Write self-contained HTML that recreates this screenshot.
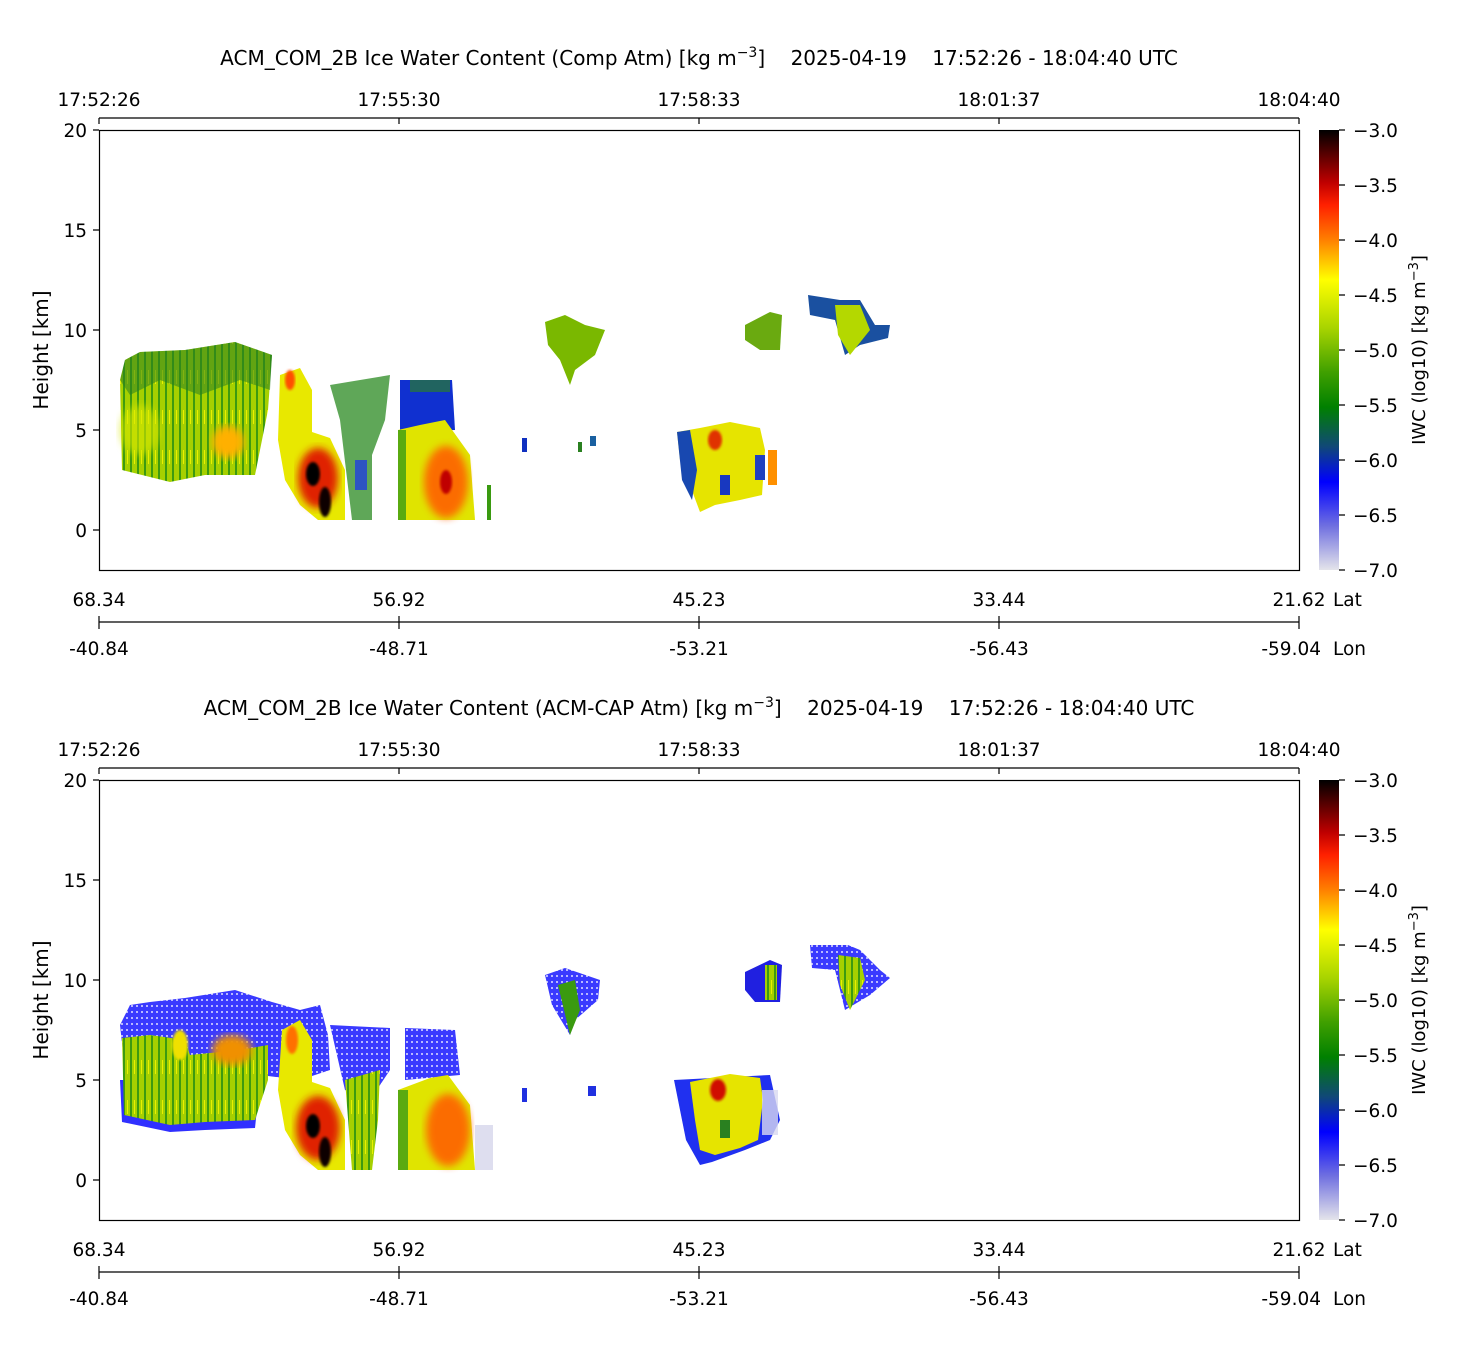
<!DOCTYPE html>
<html><head><meta charset="utf-8"><style>
html,body{margin:0;padding:0;background:#fff}
svg{display:block;font-family:"DejaVu Sans","Liberation Sans",sans-serif}
text{white-space:pre}
</style></head><body>
<svg width="1459" height="1350" viewBox="0 0 1459 1350" xmlns="http://www.w3.org/2000/svg" xml:space="preserve">
<defs>
<linearGradient id="cb" x1="0" y1="0" x2="0" y2="1">
<stop offset="0" stop-color="#000000"/>
<stop offset="0.12" stop-color="#c00000"/>
<stop offset="0.17" stop-color="#ff2000"/>
<stop offset="0.25" stop-color="#ff8000"/>
<stop offset="0.34" stop-color="#ffff00"/>
<stop offset="0.45" stop-color="#a8d400"/>
<stop offset="0.55" stop-color="#40a000"/>
<stop offset="0.63" stop-color="#008000"/>
<stop offset="0.72" stop-color="#104878"/>
<stop offset="0.8" stop-color="#0000ff"/>
<stop offset="0.9" stop-color="#7070e0"/>
<stop offset="1" stop-color="#e4e4ea"/>
</linearGradient>
<pattern id="gy" width="7" height="40" patternUnits="userSpaceOnUse">
<rect width="7" height="40" fill="#a6d000"/><rect x="4" width="2" height="40" fill="#3c9a10"/><rect x="1" y="10" width="1" height="14" fill="#e8f000"/>
</pattern>
<pattern id="bl" width="5" height="6" patternUnits="userSpaceOnUse">
<rect width="5" height="6" fill="#3a3aff"/><rect x="1" y="1" width="2" height="2" fill="#b8b8ff"/>
</pattern>
<filter id="bf"><feGaussianBlur stdDeviation="4"/></filter>
<filter id="bs"><feGaussianBlur stdDeviation="1.2"/></filter>
</defs>

<!-- ============ PANEL 1 ============ -->
<text x="699" y="65" font-size="20" text-anchor="middle">ACM_COM_2B Ice Water Content (Comp Atm) [kg m<tspan dy="-8" font-size="14">−3</tspan><tspan dy="8">]    2025-04-19    17:52:26 - 18:04:40 UTC</tspan></text>
<g font-size="18.5" text-anchor="middle">
<text x="99" y="106">17:52:26</text><text x="399" y="106">17:55:30</text><text x="699" y="106">17:58:33</text><text x="999" y="106">18:01:37</text><text x="1299" y="106">18:04:40</text>
</g>
<g stroke="#000" stroke-width="1.2" fill="none">
<path d="M99 118H1299M99 118v6M399 118v6M699 118v6M999 118v6M1299 118v6"/>
<path d="M99 622H1299M99 616v13M399 616v13M699 616v13M999 616v13M1299 616v13"/>
</g>
<g font-size="18.5" text-anchor="middle">
<text x="99" y="606">68.34</text><text x="399" y="606">56.92</text><text x="699" y="606">45.23</text><text x="999" y="606">33.44</text><text x="1299" y="606">21.62</text>
<text x="99" y="655">-40.84</text><text x="399" y="655">-48.71</text><text x="699" y="655">-53.21</text><text x="999" y="655">-56.43</text><text x="1321" y="655" text-anchor="end">-59.04</text>
</g>
<text x="1333" y="606" font-size="18.5">Lat</text>
<text x="1333" y="655" font-size="18.5">Lon</text>

<g id="clouds1">
<path d="M120 380L125 360L140 352L185 350L235 342L272 355L268 410L255 475L205 475L170 482L122 470Z" fill="url(#gy)"/>
<path d="M120 380L125 360L140 352L185 350L235 342L272 355L270 390L240 380L200 395L160 380L130 395Z" fill="#2a8020" opacity="0.55"/>
<ellipse cx="228" cy="442" rx="16" ry="16" fill="#ffb000" filter="url(#bf)"/>
<ellipse cx="140" cy="430" rx="20" ry="25" fill="#d8e800" opacity="0.6" filter="url(#bf)"/>
<path d="M280 375L300 368L312 390L312 432L330 438L345 470L345 520L318 520L300 505L285 480L278 440Z" fill="#e8e800"/>
<ellipse cx="290" cy="380" rx="5" ry="10" fill="#ff5000" filter="url(#bs)"/>
<ellipse cx="318" cy="478" rx="20" ry="30" fill="#e02000" filter="url(#bf)"/>
<ellipse cx="313" cy="474" rx="7" ry="12" fill="#000" filter="url(#bs)"/>
<ellipse cx="325" cy="502" rx="6" ry="15" fill="#100000" filter="url(#bs)"/>
<path d="M330 385L390 375L385 420L372 455L372 520L352 520L346 470L340 420Z" fill="#2a8a20" opacity="0.75"/>
<rect x="355" y="460" width="12" height="30" fill="#2040e0" opacity="0.8"/>
<path d="M400 380L452 380L455 430L400 432Z" fill="#1030d0"/>
<rect x="410" y="380" width="40" height="12" fill="#2a7a30" opacity="0.7"/>
<path d="M398 430L420 425L445 420L470 455L475 520L398 520Z" fill="#e0e400"/>
<ellipse cx="446" cy="482" rx="22" ry="36" fill="#ff6000" opacity="0.9" filter="url(#bf)"/>
<ellipse cx="446" cy="482" rx="6" ry="12" fill="#c00000" filter="url(#bs)"/>
<rect x="398" y="430" width="8" height="90" fill="#5aaa10"/>
<rect x="487" y="485" width="4" height="35" fill="#3a9a10"/>
<path d="M545 322L565 315L585 325L605 330L595 355L575 370L570 385L560 360L548 345Z" fill="#7ab800"/>
<path d="M745 325L770 312L782 315L780 350L760 350L745 340Z" fill="#6aaa10"/>
<path d="M808 295L840 300L860 300L875 325L890 325L888 338L860 345L845 355L835 320L810 315Z" fill="#1a50a0"/>
<path d="M835 305L860 305L870 330L850 355L838 335Z" fill="#b4d800"/>
<path d="M677 432L700 428L730 422L760 428L765 450L762 495L740 500L715 505L700 512L688 480L680 460Z" fill="#e6e400"/>
<path d="M677 432L690 430L697 470L692 500L682 480Z" fill="#1848b0"/>
<rect x="720" y="475" width="10" height="20" fill="#1838c0"/>
<ellipse cx="715" cy="440" rx="7" ry="10" fill="#e03000" filter="url(#bs)"/>
<rect x="768" y="450" width="9" height="35" fill="#ff9000"/>
<rect x="755" y="455" width="10" height="25" fill="#2040c0"/>
<rect x="522" y="438" width="5" height="14" fill="#1030c0"/>
<rect x="590" y="436" width="6" height="10" fill="#1a60a0"/>
<rect x="578" y="442" width="4" height="10" fill="#2a8020"/>
</g>

<rect x="99.5" y="130.5" width="1200" height="440" fill="none" stroke="#000" stroke-width="1.2"/>
<g stroke="#000" stroke-width="1.2"><path d="M93 130h6M93 230h6M93 330h6M93 430h6M93 530h6"/></g>
<g font-size="18.5" text-anchor="end">
<text x="87" y="137">20</text><text x="87" y="237">15</text><text x="87" y="337">10</text><text x="87" y="437">5</text><text x="87" y="537">0</text>
</g>
<text transform="translate(48 350) rotate(-90)" font-size="20" text-anchor="middle">Height [km]</text>

<rect x="1319" y="130" width="20" height="440" fill="url(#cb)"/>
<g stroke="#000" stroke-width="1.2"><path d="M1339 130h6M1339 185h6M1339 240h6M1339 295h6M1339 350h6M1339 405h6M1339 460h6M1339 515h6M1339 570h6"/></g>
<g font-size="18.5">
<text x="1353" y="137">−3.0</text><text x="1353" y="192">−3.5</text><text x="1353" y="247">−4.0</text><text x="1353" y="302">−4.5</text><text x="1353" y="357">−5.0</text><text x="1353" y="412">−5.5</text><text x="1353" y="467">−6.0</text><text x="1353" y="522">−6.5</text><text x="1353" y="577">−7.0</text>
</g>
<text transform="translate(1425 350) rotate(-90)" font-size="18" text-anchor="middle">IWC (log10) [kg m<tspan dy="-7" font-size="13">−3</tspan><tspan dy="7">]</tspan></text>

<!-- ============ PANEL 2 ============ -->
<text x="699" y="715" font-size="20" text-anchor="middle">ACM_COM_2B Ice Water Content (ACM-CAP Atm) [kg m<tspan dy="-8" font-size="14">−3</tspan><tspan dy="8">]    2025-04-19    17:52:26 - 18:04:40 UTC</tspan></text>
<g font-size="18.5" text-anchor="middle">
<text x="99" y="756">17:52:26</text><text x="399" y="756">17:55:30</text><text x="699" y="756">17:58:33</text><text x="999" y="756">18:01:37</text><text x="1299" y="756">18:04:40</text>
</g>
<g stroke="#000" stroke-width="1.2" fill="none">
<path d="M99 768H1299M99 768v6M399 768v6M699 768v6M999 768v6M1299 768v6"/>
<path d="M99 1272H1299M99 1266v13M399 1266v13M699 1266v13M999 1266v13M1299 1266v13"/>
</g>
<g font-size="18.5" text-anchor="middle">
<text x="99" y="1256">68.34</text><text x="399" y="1256">56.92</text><text x="699" y="1256">45.23</text><text x="999" y="1256">33.44</text><text x="1299" y="1256">21.62</text>
<text x="99" y="1305">-40.84</text><text x="399" y="1305">-48.71</text><text x="699" y="1305">-53.21</text><text x="999" y="1305">-56.43</text><text x="1321" y="1305" text-anchor="end">-59.04</text>
</g>
<text x="1333" y="1256" font-size="18.5">Lat</text>
<text x="1333" y="1305" font-size="18.5">Lon</text>

<g transform="translate(0 650)">
<path d="M120 375L130 355L150 352L185 348L235 340L272 352L300 360L320 355L328 385L330 420L300 430L260 425L240 432L205 432L170 430L125 420Z" fill="url(#bl)"/>
<path d="M120 430L260 430L255 478L205 480L170 482L122 472Z" fill="#3030ff"/>
<path d="M330 375L390 378L390 420L370 450L345 440Z" fill="url(#bl)"/>
<path d="M405 378L455 380L460 425L405 430Z" fill="url(#bl)"/>
<path d="M545 325L565 318L600 330L598 350L575 370L570 385L552 355Z" fill="url(#bl)"/>
<path d="M745 322L770 310L782 315L780 352L755 352L745 340Z" fill="#2020e0"/>
<path d="M810 295L848 295L860 300L880 320L890 328L870 345L845 360L835 320L812 318Z" fill="url(#bl)"/>
<path d="M674 430L770 425L780 470L770 490L745 500L712 512L700 515L686 490Z" fill="#2030f0"/>
<path d="M122 388L150 385L185 390L190 405L240 400L268 395L268 430L255 470L205 472L170 475L124 465Z" fill="url(#gy)"/>
<ellipse cx="232" cy="400" rx="20" ry="15" fill="#f09000" filter="url(#bf)"/>
<ellipse cx="180" cy="395" rx="8" ry="15" fill="#f0e000" filter="url(#bs)"/>
<path d="M282 380L300 370L312 390L312 432L330 438L345 470L345 520L318 520L300 505L285 480L278 440Z" fill="#e8e800"/>
<ellipse cx="292" cy="390" rx="6" ry="14" fill="#ff7000" filter="url(#bs)"/>
<ellipse cx="318" cy="478" rx="22" ry="32" fill="#e02000" filter="url(#bf)"/>
<ellipse cx="313" cy="476" rx="7" ry="12" fill="#000" filter="url(#bs)"/>
<ellipse cx="325" cy="502" rx="6" ry="15" fill="#100000" filter="url(#bs)"/>
<path d="M345 430L380 420L378 470L372 520L352 520Z" fill="url(#gy)"/>
<path d="M398 440L430 428L448 425L470 455L475 520L398 520Z" fill="#e0e400"/>
<ellipse cx="448" cy="480" rx="22" ry="36" fill="#ff6000" opacity="0.9" filter="url(#bf)"/>
<rect x="398" y="440" width="10" height="80" fill="#5aaa10"/>
<rect x="475" y="475" width="18" height="45" fill="#d0d0e8" opacity="0.7"/>
<path d="M558 335L575 330L580 360L570 385Z" fill="#3a9a10"/>
<rect x="765" y="315" width="12" height="35" fill="url(#gy)"/>
<path d="M838 305L860 308L865 330L850 360L840 335Z" fill="url(#gy)"/>
<path d="M690 432L730 424L760 428L763 450L758 490L740 498L715 505L700 500L695 470Z" fill="#e6e400"/>
<ellipse cx="718" cy="440" rx="8" ry="11" fill="#d01000" filter="url(#bs)"/>
<rect x="720" y="470" width="10" height="18" fill="#2a8020"/>
<rect x="762" y="440" width="16" height="45" fill="#d8d8f0" opacity="0.8"/>
<rect x="522" y="438" width="5" height="14" fill="#2030e0"/>
<rect x="588" y="436" width="8" height="10" fill="#2030e0"/>
</g>

<rect x="99.5" y="780.5" width="1200" height="440" fill="none" stroke="#000" stroke-width="1.2"/>
<g stroke="#000" stroke-width="1.2"><path d="M93 780h6M93 880h6M93 980h6M93 1080h6M93 1180h6"/></g>
<g font-size="18.5" text-anchor="end">
<text x="87" y="787">20</text><text x="87" y="887">15</text><text x="87" y="987">10</text><text x="87" y="1087">5</text><text x="87" y="1187">0</text>
</g>
<text transform="translate(48 1000) rotate(-90)" font-size="20" text-anchor="middle">Height [km]</text>

<rect x="1319" y="780" width="20" height="440" fill="url(#cb)"/>
<g stroke="#000" stroke-width="1.2"><path d="M1339 780h6M1339 835h6M1339 890h6M1339 945h6M1339 1000h6M1339 1055h6M1339 1110h6M1339 1165h6M1339 1220h6"/></g>
<g font-size="18.5">
<text x="1353" y="787">−3.0</text><text x="1353" y="842">−3.5</text><text x="1353" y="897">−4.0</text><text x="1353" y="952">−4.5</text><text x="1353" y="1007">−5.0</text><text x="1353" y="1062">−5.5</text><text x="1353" y="1117">−6.0</text><text x="1353" y="1172">−6.5</text><text x="1353" y="1227">−7.0</text>
</g>
<text transform="translate(1425 1000) rotate(-90)" font-size="18" text-anchor="middle">IWC (log10) [kg m<tspan dy="-7" font-size="13">−3</tspan><tspan dy="7">]</tspan></text>
</svg>
</body></html>
